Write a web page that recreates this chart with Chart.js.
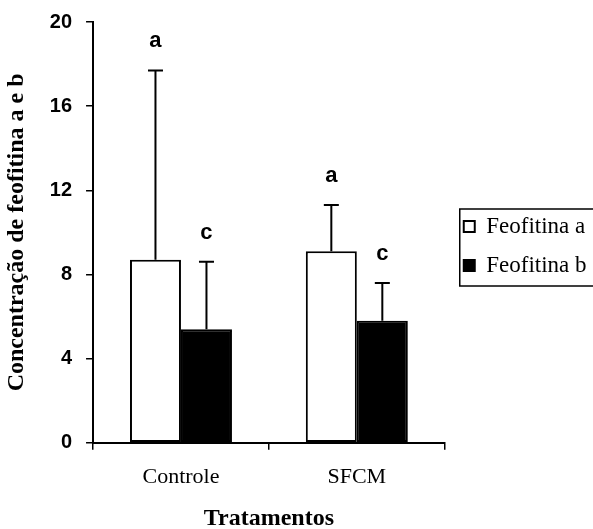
<!DOCTYPE html>
<html>
<head>
<meta charset="utf-8">
<script src="https://cdn.jsdelivr.net/npm/chart.js@4.4.0/dist/chart.umd.min.js"></script>
<style>
  html, body { margin: 0; padding: 0; background: #fff; }
  #wrap { width: 593px; height: 529px; }
</style>
</head>
<body>
<div id="wrap"><canvas id="feofitina-chart"></canvas></div>
<script>
var categories = ['Controle', 'SFCM'];
var feofitinaA = [8.7, 9.1];
var feofitinaB = [5.4, 5.8];
var errA = [9.0, 2.2];
var errB = [3.2, 1.8];
var lettersA = ['a', 'a'];
var lettersB = ['c', 'c'];
var yTicks = [0, 4, 8, 12, 16, 20];

var serif = '"Liberation Serif", "Times New Roman", serif';
var sans = '"Liberation Sans", Arial, sans-serif';

var errorBars = {
  id: 'errorBars',
  afterDatasetsDraw: (chart) => {
    const ctx = chart.ctx;
    const y = chart.scales.y;
    const errs = [errA, errB];
    const letters = [lettersA, lettersB];
    ctx.save();
    chart.data.datasets.forEach((ds, i) => {
      const meta = chart.getDatasetMeta(i);
      meta.data.forEach((bar, j) => {
        const top = y.getPixelForValue(ds.data[j] + errs[i][j]);
        ctx.strokeStyle = 'black';
        ctx.lineWidth = 2;
        ctx.beginPath();
        ctx.moveTo(bar.x, bar.y);
        ctx.lineTo(bar.x, top);
        ctx.moveTo(bar.x - 7.5, top);
        ctx.lineTo(bar.x + 7.5, top);
        ctx.stroke();
        ctx.fillStyle = 'black';
        ctx.font = 'bold 22px ' + sans;
        ctx.textAlign = 'center';
        ctx.textBaseline = 'middle';
        ctx.fillText(letters[i][j], bar.x, top - 29);
      });
    });
    ctx.restore();
  }
};

// nudge the legend a little and frame it like the original
var legendBox = {
  id: 'legendBox',
  afterLayout: (chart) => {
    const lg = chart.legend;
    lg.left += 3; lg.right += 3;
    lg.top -= 22; lg.bottom -= 22;
  },
  afterDraw: (chart) => {
    const boxes = chart.legend.legendHitBoxes;
    if (!boxes || !boxes.length) return;
    const ctx = chart.ctx;
    const left = boxes[0].left - 4;
    const top = boxes[0].top - 6;
    const last = boxes[boxes.length - 1];
    const bottom = last.top + last.height + 9;
    ctx.save();
    ctx.strokeStyle = 'black';
    ctx.lineWidth = 1.5;
    ctx.strokeRect(left, top, chart.width + 10 - left, bottom - top);
    ctx.restore();
  }
};

var chart = new Chart(document.getElementById('feofitina-chart').getContext('2d'), {
  type: 'bar',
  data: {
    labels: categories,
    datasets: [{
      label: 'Feofitina a',
      data: feofitinaA,
      backgroundColor: 'white',
      borderColor: 'black',
      borderWidth: 2,
      borderSkipped: false
    }, {
      label: 'Feofitina b',
      data: feofitinaB,
      backgroundColor: 'black',
      borderColor: 'black',
      borderWidth: 2,
      borderSkipped: false
    }]
  },
  plugins: [errorBars, legendBox],
  options: {
    responsive: true,
    maintainAspectRatio: false,
    animation: false,
    layout: {
      padding: { top: 3, left: 0, bottom: -4, right: 0 }
    },
    datasets: {
      bar: { categoryPercentage: 0.58, barPercentage: 1.0 }
    },
    plugins: {
      legend: {
        position: 'right',
        labels: {
          color: 'black',
          boxWidth: 11,
          boxHeight: 11,
          padding: 16,
          font: { family: serif, size: 23 }
        }
      },
      tooltip: { enabled: false }
    },
    scales: {
      x: {
        grid: {
          offset: true,
          drawOnChartArea: false,
          color: 'black',
          tickLength: 7,
          lineWidth: 1.5
        },
        border: { color: 'black', width: 2 },
        ticks: {
          color: 'black',
          padding: 14,
          font: { family: serif, size: 22 }
        },
        title: {
          display: true,
          text: 'Tratamentos',
          color: 'black',
          padding: { top: 0, bottom: 0 },
          font: { family: serif, size: 24, weight: 'bold' }
        }
      },
      y: {
        min: 0,
        max: 20,
        afterBuildTicks: (axis) => {
          axis.ticks = yTicks.map(v => ({ value: v }));
        },
        grid: {
          drawOnChartArea: false,
          color: 'black',
          tickLength: 7,
          lineWidth: 1.5
        },
        border: { color: 'black', width: 2 },
        ticks: {
          color: 'black',
          padding: 14,
          font: { family: sans, size: 20, weight: 'bold', lineHeight: 0.8 }
        },
        title: {
          display: true,
          text: 'Concentração de feofitina a e b',
          color: 'black',
          padding: { top: 2, bottom: 5 },
          font: { family: serif, size: 24, weight: 'bold' }
        }
      }
    }
  }
});
</script>
</body>
</html>
